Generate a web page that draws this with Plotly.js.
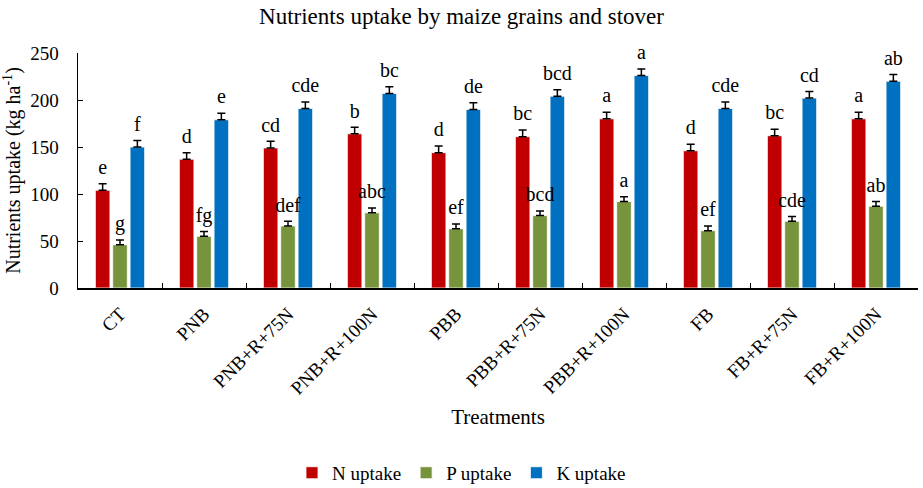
<!DOCTYPE html>
<html>
<head>
<meta charset="utf-8">
<script src="https://cdn.plot.ly/plotly-3.0.1.min.js"></script>
<style>
  html, body { margin: 0; padding: 0; background: #fff; }
  #chart { width: 923px; height: 488px; }
</style>
</head>
<body>
<div id="chart"></div>
<script>
const treatments = ['CT', 'PNB', 'PNB+R+75N', 'PNB+R+100N', 'PBB', 'PBB+R+75N',
    'PBB+R+100N', 'FB', 'FB+R+75N', 'FB+R+100N'];

const nUptake = [104, 137, 149, 164, 144, 161, 180, 146, 162, 180];
const pUptake = [46, 55, 66, 80, 63, 77, 92, 61, 71, 87];
const kUptake = [150, 179, 191, 207, 190, 204, 226, 191, 202, 220];

const nErr = [7, 7, 7, 7, 7, 7, 7, 7, 7, 7];
const pErr = [5, 5, 5, 5, 5, 5, 5, 5, 5, 5];
const kErr = [7, 7, 7, 7, 7, 7, 7, 7, 7, 7];

const nLetters = ['e', 'd', 'cd', 'b', 'd', 'bc', 'a', 'd', 'bc', 'a'];
const pLetters = ['g', 'fg', 'def', 'abc', 'ef', 'bcd', 'a', 'ef', 'cde', 'ab'];
const kLetters = ['f', 'e', 'cde', 'bc', 'de', 'bcd', 'a', 'cde', 'cd', 'ab'];

const serif = 'Liberation Serif, Times New Roman, serif';

function barTrace(name, values, errs, color) {
    return {
        type: 'bar',
        name: name,
        x: treatments,
        y: values,
        marker: { color: color, line: { color: '#ffffff', width: 0.8 } },
        error_y: {
            type: 'data',
            symmetric: false,
            array: errs,
            arrayminus: errs.map(() => 0),
            color: '#000000',
            thickness: 1.5,
            width: 4
        }
    };
}

// letters sit above the error bar; the invisible marker pushes them up a little
function letterTrace(values, errs, letters) {
    return {
        type: 'scatter',
        mode: 'markers+text',
        x: treatments,
        y: values.map((v, i) => v + errs[i]),
        text: letters,
        textposition: 'top center',
        textfont: { family: serif, size: 20, color: '#000000' },
        marker: { size: 6, color: 'rgba(0,0,0,0)' },
        cliponaxis: false,
        showlegend: false,
        hoverinfo: 'skip'
    };
}

const data = [
    barTrace('N uptake', nUptake, nErr, '#C00000'),
    barTrace('P uptake', pUptake, pErr, '#77933C'),
    barTrace('K uptake', kUptake, kErr, '#0070C0'),
    letterTrace(nUptake, nErr, nLetters),
    letterTrace(pUptake, pErr, pLetters),
    letterTrace(kUptake, kErr, kLetters)
];

const layout = {
    width: 923,
    height: 488,
    margin: { l: 78, r: 5, t: 53, b: 200 },
    paper_bgcolor: '#ffffff',
    plot_bgcolor: '#ffffff',
    font: { family: serif, size: 19, color: '#000000' },
    title: {
        text: 'Nutrients uptake by maize grains and stover',
        font: { family: serif, size: 23, color: '#000000' },
        x: 0.5,
        xanchor: 'center',
        y: 0.968,
        yanchor: 'middle'
    },
    barmode: 'group',
    bargap: 0.38,
    bargroupgap: 0.16,
    scattermode: 'group',
    showlegend: true,
    legend: {
        orientation: 'h',
        xref: 'container',
        yref: 'container',
        x: 0.5,
        xanchor: 'center',
        y: 0.031,
        yanchor: 'middle',
        font: { family: serif, size: 19 },
        itemwidth: 30,
        traceorder: 'normal'
    },
    xaxis: {
        type: 'category',
        automargin: false,
        tickangle: -45,
        tickfont: { family: serif, size: 19 },
        ticklabelstandoff: 6,
        showline: true,
        linecolor: '#000000',
        linewidth: 1.5,
        ticks: 'inside',
        tickson: 'boundaries',
        ticklen: 5,
        tickcolor: '#000000',
        showgrid: false,
        zeroline: false,
        title: {
            text: 'Treatments',
            font: { family: serif, size: 21 },
            standoff: 12
        }
    },
    yaxis: {
        range: [0, 250],
        dtick: 50,
        automargin: false,
        tickfont: { family: serif, size: 19 },
        ticklabelstandoff: 14,
        showline: true,
        linecolor: '#000000',
        linewidth: 1.5,
        ticks: 'inside',
        ticklen: 5,
        tickcolor: '#000000',
        showgrid: false,
        zeroline: false,
        title: {
            text: 'Nutrients uptake (kg ha<sup>-1</sup>)',
            font: { family: serif, size: 20 },
            standoff: 6
        }
    }
};

Plotly.newPlot('chart', data, layout, { displayModeBar: false, staticPlot: true });
</script>
</body>
</html>
